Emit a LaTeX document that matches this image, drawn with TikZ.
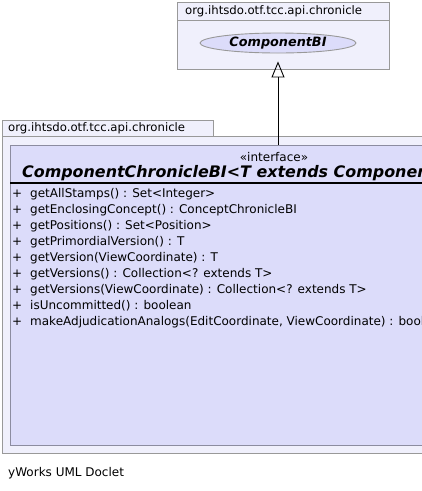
\documentclass[tikz,border=0pt]{standalone}
\usepackage{fontspec}
\setmainfont{DejaVu Sans}
\usetikzlibrary{arrows.meta,shapes.geometric}
\definecolor{pkgfill}{HTML}{F0F0FC}
\definecolor{pkgline}{HTML}{999999}
\definecolor{clsfill}{HTML}{DCDCFA}
\definecolor{clsline}{HTML}{8C8CA0}
\begin{document}
\begin{tikzpicture}[x=1pt,y=-1pt,
  pkg/.style={draw=pkgline,fill=pkgfill,line width=0.9pt},
  pkglabel/.style={anchor=west,inner sep=0pt,font=\fontsize{11.7}{14}\selectfont},
  clsbox/.style={draw=clsline,fill=clsfill,line width=0.9pt,anchor=north west,inner sep=0pt},
  member/.style={anchor=west,inner sep=0pt,font=\fontsize{12}{14}\selectfont},
  realizes/.style={-{Triangle[open,length=16pt,width=13pt]},line width=0.9pt}]
\useasboundingbox (0,0) rectangle (422,491);
\clip (0,0) rectangle (422,491);
\fill[white] (0,0) rectangle (422,491);
% upper package with the base interface
\draw[pkg] (177,2) rectangle (389,69);
\draw[pkgline,line width=0.9pt] (177,20) -- (389,20);
\node[pkglabel] (toppkg) at (185,11) {org.ihtsdo.otf.tcc.api.chronicle};
\node[ellipse,draw=pkgline,fill=clsfill,line width=0.9pt,minimum width=156pt,minimum height=20pt,inner sep=0pt,
  font=\fontsize{12.8}{14}\selectfont\bfseries\itshape] (base) at (278,43) {ComponentBI};
% lower package
\draw[pkg] (2,120) rectangle (213,136);
\draw[pkg] (2,136) rectangle (440,453);
\node[pkglabel] (lowpkg) at (8,128) {org.ihtsdo.otf.tcc.api.chronicle};
% class box
\node[clsbox,minimum width=430pt,minimum height=300pt] (cls) at (10,145) {};
\node[inner sep=0pt,font=\fontsize{12}{14}\selectfont] (stereo) at (274,157) {«interface»};
\node[anchor=west,inner sep=0pt,font=\fontsize{15.9}{18}\selectfont\bfseries\itshape] (title) at (22,173)
  {ComponentChronicleBI<T extends ComponentVersionBI>};
\draw[line width=2pt] (10,183) -- (440,183);
\foreach \m [count=\i] in {getAllStamps() : Set<Integer>,
    getEnclosingConcept() : ConceptChronicleBI,
    getPositions() : Set<Position>,
    getPrimordialVersion() : T,
    getVersion(ViewCoordinate) : T,
    getVersions() : Collection<? extends T>,
    getVersions(ViewCoordinate) : Collection<? extends T>,
    isUncommitted() : boolean,
    {makeAdjudicationAnalogs(EditCoordinate, ViewCoordinate) : boolean}}
  {\node[member] (p\i) at (12,178+16*\i) {+};
   \node[member] (m\i) at (30,178+16*\i) {\m};}
% generalization
\draw[realizes] (base.south |- cls.north) -- ([yshift=-8pt]base.south);
\node[member] (footer) at (8,473) {yWorks UML Doclet};
\end{tikzpicture}
\end{document}
